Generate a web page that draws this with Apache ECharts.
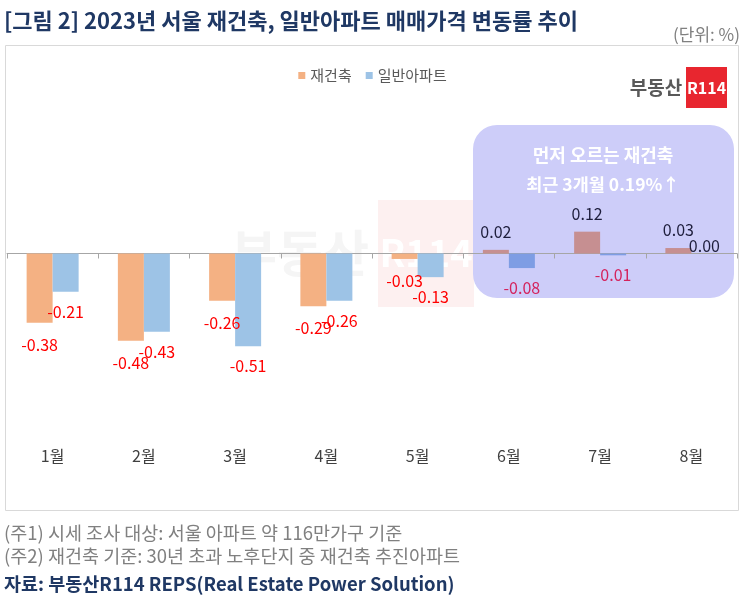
<!DOCTYPE html>
<html>
<head>
<meta charset="utf-8">
<script src="https://cdn.jsdelivr.net/npm/echarts@6/dist/echarts.min.js"></script>
<style>
html,body{margin:0;padding:0;background:#fff;}
#c{width:745px;height:601px;}
</style>
</head>
<body>
<div id="c"></div>
<script>
const months = ['1월','2월','3월','4월','5월','6월','7월','8월'];
const reconstruction = [-0.38, -0.48, -0.26, -0.29, -0.03, 0.02, 0.12, 0.03];
const generalApt = [-0.21, -0.43, -0.51, -0.26, -0.13, -0.08, -0.01, 0.00];
const seriesNames = ['재건축', '일반아파트'];
const highlightMonths = ['6월','7월','8월'];

const FONT = "'Noto Sans CJK KR','Noto Sans',sans-serif";
const ORANGE = '#f4b183', BLUE = '#9dc3e6';
const ORANGE_HL = '#c68f91', BLUE_HL = '#7e9de4';

function buildData(values, baseColor, hlColor, negDist, posDist) {
  return values.map((v, i) => {
    const hl = highlightMonths.includes(months[i]);
    const neg = v < 0;
    return {
      value: v,
      itemStyle: { color: hl ? hlColor : baseColor },
      label: {
        position: neg ? 'bottom' : 'top',
        distance: neg ? negDist : posDist,
        color: neg ? (hl ? '#d4225c' : '#ff0000') : (hl ? '#1e1e3c' : '#404040')
      }
    };
  });
}

function txt(x, y, text, font, fill, align, z) {
  return { type: 'text', z: z || 10, silent: true, x: x, y: y,
    style: { text: text, font: font, fill: fill, textAlign: align || 'left', textVerticalAlign: 'middle' } };
}

const chart = echarts.init(document.getElementById('c'), null, { renderer: 'canvas' });
chart.setOption({
  animation: false,
  textStyle: { fontFamily: FONT },
  legend: {
    data: seriesNames, left: 'center', top: 63, icon: 'rect', itemWidth: 7, itemHeight: 7, itemGap: 14,
    textStyle: { fontSize: 15, color: '#595959', fontFamily: FONT }
  },
  grid: { left: 7, right: 8, top: 107.9, bottom: 165.5, containLabel: false },
  xAxis: [
    { type: 'category', data: months, position: 'bottom',
      axisLine: { onZero: true, lineStyle: { color: '#a6a6a6', width: 1 } },
      axisTick: { show: true, length: 5, lineStyle: { color: '#a6a6a6' } },
      axisLabel: { show: false } },
    { type: 'category', data: months, position: 'bottom', offset: 0,
      axisLine: { show: false, onZero: false }, axisTick: { show: false },
      axisLabel: { show: true, margin: 12, fontSize: 16, color: '#404040', fontFamily: FONT } }
  ],
  yAxis: { type: 'value', min: -1, max: 0.8, show: false, splitLine: { show: false } },
  graphic: [
    txt(4, 21, '[그림 2] 2023년 서울 재건축, 일반아파트 매매가격 변동률 추이', 'bold 22px ' + FONT, '#1f3864'),
    txt(740, 35, '(단위: %)', '17px ' + FONT, '#808080', 'right'),
    { type: 'rect', z: -10, silent: true, shape: { x: 5.5, y: 45.5, width: 733, height: 465 },
      style: { fill: 'none', stroke: '#d9d9d9', lineWidth: 1 } },
    // faint watermark
    txt(300, 253, '부동산', 'bold 50px ' + FONT, '#f5f5f5', 'center', -5),
    { type: 'rect', z: -5, silent: true, shape: { x: 378, y: 200, width: 96, height: 107 },
      style: { fill: '#fdf0f0' } },
    txt(426, 253, 'R114', 'bold 38px ' + FONT, '#ffffff', 'center', -4),
    // annotation box (behind bars)
    { type: 'rect', z: -3, silent: true, shape: { x: 473, y: 125, width: 261, height: 173, r: 24 },
      style: { fill: '#cdcdf9' } },
    txt(603, 155, '먼저 오르는 재건축', 'bold 18px ' + FONT, '#ffffff', 'center'),
    txt(603, 184, '최근 3개월 0.19%↑', 'bold 17.5px ' + FONT, '#ffffff', 'center'),
    // logo
    txt(656, 88, '부동산', 'bold 19px ' + FONT, '#595959', 'center'),
    { type: 'rect', z: 10, silent: true, shape: { x: 686, y: 67, width: 41, height: 41 },
      style: { fill: '#e8262f' } },
    txt(706.5, 88, 'R114', 'bold 16px ' + FONT, '#ffffff', 'center', 11),
    // footnotes
    txt(4, 533, '(주1) 시세 조사 대상: 서울 아파트 약 116만가구 기준', '18.5px ' + FONT, '#808080'),
    txt(4, 556, '(주2) 재건축 기준: 30년 초과 노후단지 중 재건축 추진아파트', '18.5px ' + FONT, '#808080'),
    txt(4, 584, '자료: 부동산R114 REPS(Real Estate Power Solution)', 'bold 18.5px ' + FONT, '#1f3864')
  ],
  series: [
    { name: seriesNames[0], type: 'bar', xAxisIndex: 0, barWidth: 26, barGap: '0%',
      itemStyle: { color: ORANGE },
      label: { show: true, fontSize: 16, fontFamily: FONT, formatter: p => p.value.toFixed(2) },
      data: buildData(reconstruction, ORANGE, ORANGE_HL, 14, 10) },
    { name: seriesNames[1], type: 'bar', xAxisIndex: 0, barWidth: 26, barGap: '0%',
      itemStyle: { color: BLUE },
      label: { show: true, fontSize: 16, fontFamily: FONT, formatter: p => p.value.toFixed(2) },
      data: buildData(generalApt, BLUE, BLUE_HL, 12, 0) }
  ]
});
</script>
</body>
</html>
